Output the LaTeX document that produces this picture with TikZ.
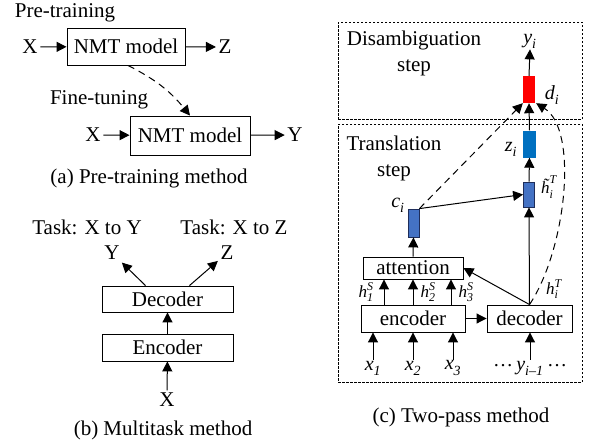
\documentclass[tikz,border=0pt]{standalone}
\usepackage{amsmath}
\usepackage{fontspec}
\setmainfont{Liberation Serif}
\usetikzlibrary{arrows.meta,positioning}
\newcommand\vv[3]{$\textit{#1}_{\textit{#2}}^{\textit{#3}}$}
\begin{document}
\begin{tikzpicture}[x=1pt,y=-1pt,
  font=\fontsize{21}{25}\selectfont,
  tip/.style={-{Triangle[length=10pt,width=10pt]}},
  link/.style={tip,line width=1pt},
  dlink/.style={tip,line width=1pt,dash pattern=on 7pt off 5pt},
  txt/.style={inner sep=2.5pt},
  boxn/.style={draw,line width=0.9pt,inner sep=0pt},
  frame/.style={draw,line width=0.8pt,dash pattern=on 2.5pt off 1.5pt,inner sep=0pt},
  vec/.style={inner sep=0pt,minimum width=12pt},
  lab/.style={inner sep=1pt,font=\fontsize{20}{24}\selectfont},
  slab/.style={inner sep=1pt,font=\fontsize{17}{20}\selectfont}]
\useasboundingbox (0,0) rectangle (590,445);

% ---------- (a) pre-training ----------
\node[txt] (pt) at (65,13) {Pre-training};
\node[txt] (xa1) at (30,47) {X};
\node[boxn,minimum width=118pt,minimum height=37pt] (nmt1) at (126,46.5) {NMT model};
\node[txt] (za1) at (225,47) {Z};
\node[txt] (ft) at (99,100) {Fine-tuning};
\node[txt] (xa2) at (93,135) {X};
\node[boxn,minimum width=120pt,minimum height=39pt] (nmt2) at (190,135.5) {NMT model};
\node[txt] (ya2) at (295,135) {Y};
\node[txt] (capa) at (149,178) {(a) Pre-training method};
\draw[link] (xa1) -- (nmt1);
\draw[link] (nmt1) -- (za1);
\draw[link] (xa2) -- (nmt2);
\draw[link] (nmt2) -- (ya2);
\draw[dlink] ([xshift=2pt]nmt1.south) to[bend left=12] (nmt2.north);

% ---------- (b) multitask ----------
\node[txt] (tky) at (87,227) {Task: X to Y};
\node[txt] (tkz) at (234,227) {Task: X to Z};
\node[txt] (yb) at (112,253) {Y};
\node[txt] (zb) at (227,253) {Z};
\node[boxn,minimum width=131pt,minimum height=26pt] (decb) at (167.5,299) {Decoder};
\node[boxn,minimum width=131pt,minimum height=27pt] (encb) at (167.5,347.5) {Encoder};
\node[txt] (xb) at (167,400) {X};
\node[txt] (capb) at (163,430) {(b) Multitask method};
\draw[link] ([xshift=-22pt]decb.north) -- (yb);
\draw[link] ([xshift=22pt]decb.north) -- (zb);
\draw[link] (encb) -- (decb);
\draw[link] (xb) -- (encb);

% ---------- (c) two-pass ----------
\node[frame,minimum width=244pt,minimum height=97pt] (disbox) at (460,70.5) {};
\node[frame,minimum width=244pt,minimum height=258pt] (trbox) at (460,253) {};
\node[txt,align=center] (dtxt) at (414,53.5) {Disambiguation\\[1pt]step};
\node[txt,align=center] (ttxt) at (394,158.5) {Translation\\[1pt]step};

\node[lab] (yi) at (530,41) {\vv{y}{i}{}};
\node[vec,fill=red,minimum height=27pt] (dv) at (529,89.5) {};
\node[lab] (dl) at (552,95) {\vv{d}{i}{}};
\node[vec,fill={rgb,255:red,0;green,112;blue,192},minimum width=13pt,minimum height=27pt] (zv) at (529.5,144) {};
\node[lab] (zl) at (511,149) {\vv{z}{i}{}};
\node[vec,draw={rgb,255:red,30;green,45;blue,90},line width=0.8pt,fill={rgb,255:red,68;green,114;blue,196},minimum width=11pt,minimum height=25pt] (hv) at (529,194.5) {};
\node[slab] (hl) at (549,187) {\vv{\~{h}}{i}{T}};
\node[vec,draw={rgb,255:red,30;green,45;blue,90},line width=0.8pt,fill={rgb,255:red,68;green,114;blue,196},minimum width=11pt,minimum height=28pt] (cv) at (413.5,223) {};
\node[lab] (cl) at (398,205) {\vv{c}{i}{}};

\node[boxn,minimum width=100pt,minimum height=22pt] (att) at (413,268) {attention};
\node[boxn,minimum width=104pt,minimum height=27pt] (enc) at (413,318.5) {encoder};
\node[boxn,minimum width=85pt,minimum height=27pt] (dec) at (529.5,318.5) {decoder};

\node[slab] (h1) at (366,292) {\vv{h}{\textrm{1}}{S}};
\node[slab] (h2) at (428,292) {\vv{h}{\textrm{2}}{S}};
\node[slab] (h3) at (466,292) {\vv{h}{\textrm{3}}{S}};
\node[slab] (hiT) at (554,289) {\vv{h}{i}{T}};

\node[lab] (x1) at (373,368) {\vv{x}{\textrm{1}}{}};
\node[lab] (x2) at (413,368) {\vv{x}{\textrm{2}}{}};
\node[lab] (x3) at (453,368) {\vv{x}{\textrm{3}}{}};
\node[lab] (dl1) at (503,366) {\dots};
\node[lab] (yim) at (530,368) {\vv{y}{i\textrm{--1}}{}};
\node[lab] (dl2) at (557,366) {\dots};

\node[txt] (capc) at (461,417) {(c) Two-pass method};

% connectors
\draw[link] (dv.north) -- (yi.south);
\draw[link] (zv.north) -- (dv.south);
\draw[link] (hv.north) -- (zv.south);
\draw[link] (cv.north east) -- (hv.west);
\draw[dlink] (cv.north east) -- (dv.south west);
\draw[dlink] (dec.north) .. controls (566,250) and (579,130) .. ([xshift=1pt]dv.south east);
\draw[link] (att.north) -- (cv.south);
\draw[link] ([xshift=-29pt]enc.north) -- ([xshift=-29pt]att.south);
\draw[link] (enc.north) -- (att.south);
\draw[link] ([xshift=38pt]enc.north) -- ([xshift=38pt]att.south);
\draw[link] (dec.north) -- (att.east);
\draw[link] (dec.north) -- (hv.south);
\draw[link] (enc.east) -- (dec.west);
\draw[link] (x1.north) -- (x1.north |- enc.south);
\draw[link] (x2.north) -- (x2.north |- enc.south);
\draw[link] (x3.north) -- (x3.north |- enc.south);
\draw[link] (yim.north) -- (yim.north |- dec.south);
\end{tikzpicture}
\end{document}
